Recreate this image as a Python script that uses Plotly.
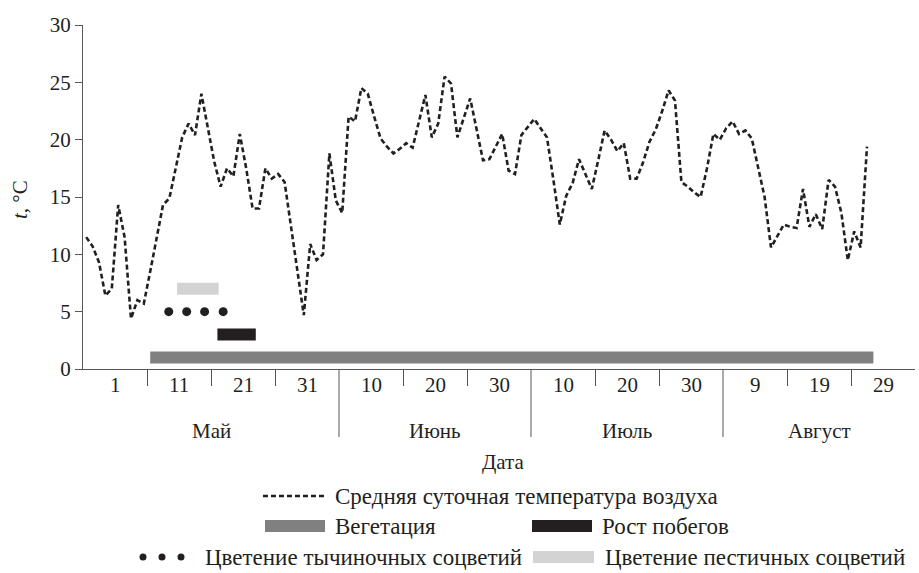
import plotly.graph_objects as go

# ---- data -------------------------------------------------------------
# daily mean air temperature, 1 May .. 31 Aug (123 days)
temp = [
    11.5, 10.7, 9.3, 6.4, 7.0, 14.3, 11.5, 4.4, 6.0, 5.7,
    8.5, 11.5, 14.3, 14.9, 17.5, 20.2, 21.4, 20.4, 24.0, 20.9,
    18.1, 15.9, 17.5, 16.8, 20.5, 17.5, 14.0, 14.0, 17.5, 16.6,
    17.0, 16.3, 12.4, 8.4, 4.7, 10.9, 9.5, 10.0, 18.8, 14.7,
    13.6, 22.0, 21.6, 24.5, 24.0, 22.0, 20.1, 19.4, 18.8, 19.2,
    19.7, 19.3, 21.5, 23.9, 20.2, 21.4, 25.5, 24.9, 20.2, 21.9,
    23.6, 20.9, 18.2, 18.3, 19.4, 20.5, 17.3, 17.0, 20.4, 21.1,
    21.8, 21.0, 20.2, 16.5, 12.6, 15.1, 16.2, 18.3, 17.0, 15.7,
    18.2, 20.8, 20.0, 19.0, 19.7, 16.6, 16.6, 18.0, 19.8, 20.9,
    22.5, 24.3, 23.4, 16.3, 15.9, 15.4, 15.0, 17.5, 20.5, 20.0,
    21.0, 21.6, 20.5, 20.8, 20.1, 17.5, 15.0, 10.6, 11.6, 12.6,
    12.4, 12.3, 15.7, 12.4, 13.5, 12.2, 16.5, 15.9, 13.6, 9.5,
    12.0, 10.6, 19.4,
]
day_pos = [i + 0.5 for i in range(len(temp))]

# phenological periods (x in day units from 1 May, y = level on t-axis)
veg_x = [10.5, 123.5]
veg_y = 1.0
shoot_x = [21.0, 27.0]
shoot_y = 3.0
pist_x = [14.7, 21.2]
pist_y = 7.0
stam_x = [13.4, 16.2, 19.0, 21.9]
stam_y = 5.0

day_tick_pos = [5, 15, 25, 35, 45, 55, 65, 75, 85, 95, 105, 115, 125]
day_tick_txt = ["1", "11", "21", "31", "10", "20", "30", "10", "20", "30", "9", "19", "29"]
month_pos = [20, 55, 85, 115]
month_txt = ["Май", "Июнь", "Июль", "Август"]
minor_ticks = [10, 20, 30, 50, 60, 80, 90, 110, 120]
month_sep = [40, 70, 100]
y_ticks = [0, 5, 10, 15, 20, 25, 30]

# ---- figure -----------------------------------------------------------
FONT = "Liberation Serif, Times New Roman, serif"
INK = "#231f20"
W, H = 919, 573
L, R, T, B = 83, 4, 25, 204
PW, PH = W - L - R, H - T - B
AX = 21   # axis text size
LG = 23   # legend text size
DASH = "5px,3px"


def px(xp):
    return (xp - L) / PW


def py(yp):
    return (H - B - yp) / PH


fig = go.Figure()

fig.add_trace(go.Scatter(x=veg_x, y=[veg_y, veg_y], mode="lines",
                         line=dict(color="#808080", width=12), showlegend=False))
fig.add_trace(go.Scatter(x=shoot_x, y=[shoot_y, shoot_y], mode="lines",
                         line=dict(color=INK, width=12), showlegend=False))
fig.add_trace(go.Scatter(x=pist_x, y=[pist_y, pist_y], mode="lines",
                         line=dict(color="#d3d3d3", width=12), showlegend=False))
fig.add_trace(go.Scatter(x=stam_x, y=[stam_y] * len(stam_x), mode="markers",
                         marker=dict(color=INK, size=9), showlegend=False))
fig.add_trace(go.Scatter(x=day_pos, y=temp, mode="lines",
                         line=dict(color=INK, width=2.6, dash=DASH),
                         showlegend=False))

annotations = []
for xv, t in zip(day_tick_pos, day_tick_txt):
    annotations.append(dict(x=xv, y=py(385), xref="x", yref="paper", text=t,
                            showarrow=False, yanchor="middle",
                            font=dict(family=FONT, size=AX, color=INK)))
for xv, t in zip(month_pos, month_txt):
    annotations.append(dict(x=xv, y=py(431), xref="x", yref="paper", text=t,
                            showarrow=False, yanchor="middle",
                            font=dict(family=FONT, size=AX, color=INK)))
annotations.append(dict(x=px(503), y=py(462), xref="paper", yref="paper", text="Дата",
                        showarrow=False, yanchor="middle",
                        font=dict(family=FONT, size=AX, color=INK)))
annotations.append(dict(x=px(20), y=py(200), xref="paper", yref="paper",
                        text="<i>t</i>, °C", textangle=-90, showarrow=False,
                        xanchor="center", yanchor="middle",
                        font=dict(family=FONT, size=AX, color=INK)))

legend_items = [
    (333, 496, "Средняя суточная температура воздуха"),
    (333, 526, "Вегетация"),
    (600, 526, "Рост побегов"),
    (203, 557, "Цветение тычиночных соцветий"),
    (603, 557, "Цветение пестичных соцветий"),
]
for xx, yy, t in legend_items:
    annotations.append(dict(x=px(xx), y=py(yy), xref="paper", yref="paper", text=t,
                            showarrow=False, xanchor="left", yanchor="middle",
                            font=dict(family=FONT, size=LG, color=INK)))

shapes = []
for xv in month_sep:
    shapes.append(dict(type="line", xref="x", yref="paper", x0=xv, x1=xv,
                       y0=0, y1=py(437), line=dict(color="#555555", width=1)))
# legend swatches
shapes.append(dict(type="line", xref="paper", yref="paper", x0=px(263), x1=px(325),
                   y0=py(496), y1=py(496), line=dict(color=INK, width=2.6, dash=DASH)))


def rect(x0, x1, yc, color):
    return dict(type="rect", xref="paper", yref="paper", x0=px(x0), x1=px(x1),
                y0=py(yc + 6), y1=py(yc - 6), fillcolor=color, line=dict(width=0))


shapes.append(rect(265, 325, 526, "#808080"))
shapes.append(rect(532, 592, 526, INK))
shapes.append(rect(533, 594, 557, "#d3d3d3"))
for cx in [143, 162, 181]:
    shapes.append(dict(type="circle", xref="paper", yref="paper",
                       x0=px(cx - 3.5), x1=px(cx + 3.5), y0=py(557 + 3.5), y1=py(557 - 3.5),
                       fillcolor=INK, line=dict(width=0)))

fig.update_layout(
    width=W, height=H,
    margin=dict(l=L, r=R, t=T, b=B),
    paper_bgcolor="white", plot_bgcolor="white",
    showlegend=False,
    annotations=annotations,
    shapes=shapes,
    xaxis=dict(range=[0, 130], showgrid=False, zeroline=False, showline=True,
               linecolor="#555555", linewidth=1, ticks="outside", ticklen=16,
               tickcolor="#555555", tickvals=minor_ticks, showticklabels=False),
    yaxis=dict(range=[0, 30], showgrid=False, zeroline=False, showline=True,
               linecolor="#555555", linewidth=1, ticks="outside", ticklen=7,
               tickcolor="#555555", tickvals=y_ticks,
               tickfont=dict(family=FONT, size=AX, color=INK)),
)

fig.write_html("out.html", config={"displayModeBar": False},
               post_script="document.body.style.margin='0';document.body.style.overflow='hidden';")
